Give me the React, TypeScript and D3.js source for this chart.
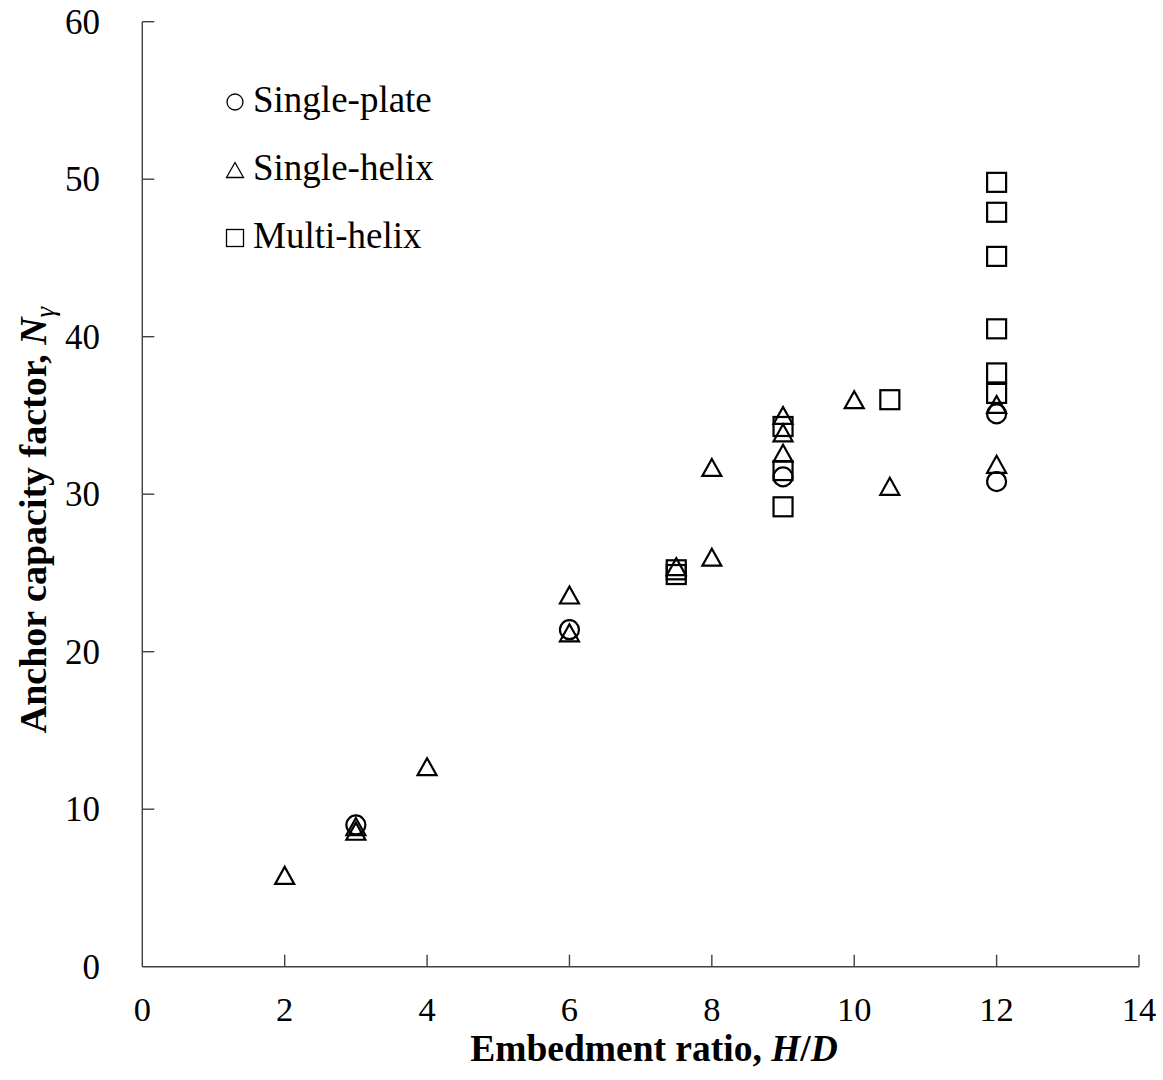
import React from "react";
import * as d3 from "d3";

const xTicks = [0, 2, 4, 6, 8, 10, 12, 14];
const yTicks = [0, 10, 20, 30, 40, 50, 60];

const plateX = [3, 6, 9, 12, 12];
const plateY = [9.0, 21.4, 31.1, 35.1, 30.8];

const helixX = [2, 3, 3, 4, 6, 6, 7.5, 8, 8, 9, 9, 9, 10, 10.5, 12, 12];
const helixY = [5.8, 8.6, 8.9, 12.7, 23.6, 21.2, 25.4, 31.7, 26.0, 35.0, 33.9, 32.6, 36.0, 30.5, 35.7, 31.9];

const multiX = [7.5, 7.5, 9, 9, 9, 10.5, 12, 12, 12, 12, 12, 12];
const multiY = [25.2, 24.9, 34.3, 31.5, 29.2, 36.0, 49.8, 47.9, 45.1, 40.5, 37.7, 36.4];

const legendLabels = ["Single-plate", "Single-helix", "Multi-helix"];

const FONT = "'Liberation Serif', 'Times New Roman', serif";

function tri(cx: number, cy: number, w: number, h: number) {
  return `M${cx},${cy - h / 2}L${cx + w / 2},${cy + h / 2}L${cx - w / 2},${cy + h / 2}Z`;
}

export default function App() {
  const x = d3.scaleLinear().domain([0, 14]).range([142.3, 1139]);
  const y = d3.scaleLinear().domain([0, 60]).range([966.7, 21.7]);
  const axisColor = "#404040";
  const mk = { fill: "none", stroke: "#000", strokeWidth: 2.2 };

  return (
    <svg
      width={1163}
      height={1080}
      style={{ position: "absolute", left: 0, top: 0, background: "#fff" }}
      fontFamily={FONT}
    >
      {/* axes */}
      <line x1={x(0)} x2={x(14)} y1={y(0)} y2={y(0)} stroke={axisColor} strokeWidth={1.4} />
      <line x1={x(0)} x2={x(0)} y1={y(0)} y2={y(60)} stroke={axisColor} strokeWidth={1.4} />
      {xTicks.map((t) => (
        <g key={"xt" + t}>
          {t > 0 && (
            <line x1={x(t)} x2={x(t)} y1={y(0)} y2={y(0) - 12} stroke={axisColor} strokeWidth={1.4} />
          )}
          <text x={x(t)} y={1021} fontSize={34.5} textAnchor="middle" fill="#000">
            {t}
          </text>
        </g>
      ))}
      {yTicks.map((t) => (
        <g key={"yt" + t}>
          {t > 0 && (
            <line x1={x(0)} x2={x(0) + 12} y1={y(t)} y2={y(t)} stroke={axisColor} strokeWidth={1.4} />
          )}
          <text x={100} y={y(t)} dy="0.35em" fontSize={35} textAnchor="end" fill="#000">
            {t}
          </text>
        </g>
      ))}

      {/* axis titles */}
      <text x={654} y={1061} fontSize={37.5} fontWeight="bold" textAnchor="middle" fill="#000">
        Embedment ratio, <tspan fontStyle="italic">H</tspan>/<tspan fontStyle="italic">D</tspan>
      </text>
      <text
        transform={`translate(46,520) rotate(-90)`}
        fontSize={38}
        fontWeight="bold"
        textAnchor="middle"
        fill="#000"
      >
        Anchor capacity factor, <tspan fontStyle="italic">N</tspan>
        <tspan fontStyle="italic" fontWeight="normal" fontSize={27} dy={8}>γ</tspan>
      </text>

      {/* data */}
      {plateX.map((v, i) => (
        <circle key={"p" + i} cx={x(v)} cy={y(plateY[i])} r={9.5} {...mk} />
      ))}
      {helixX.map((v, i) => (
        <path key={"h" + i} d={tri(x(v), y(helixY[i]), 19, 17)} {...mk} strokeLinejoin="miter" />
      ))}
      {multiX.map((v, i) => (
        <rect key={"m" + i} x={x(v) - 9.5} y={y(multiY[i]) - 9.5} width={19} height={19} {...mk} />
      ))}

      {/* legend */}
      {legendLabels.map((lab, i) => {
        const cy = 102 + i * 68;
        const sym = { fill: "none", stroke: "#000", strokeWidth: 1.3 };
        return (
          <g key={"lg" + i}>
            {i === 0 && <circle cx={235} cy={cy} r={8} {...sym} />}
            {i === 1 && <path d={tri(235, cy, 17, 15)} {...sym} />}
            {i === 2 && <rect x={226.5} y={cy - 8.5} width={17} height={17} {...sym} />}
            <text x={253} y={cy + 10} fontSize={37} fill="#000">
              {lab}
            </text>
          </g>
        );
      })}
    </svg>
  );
}
